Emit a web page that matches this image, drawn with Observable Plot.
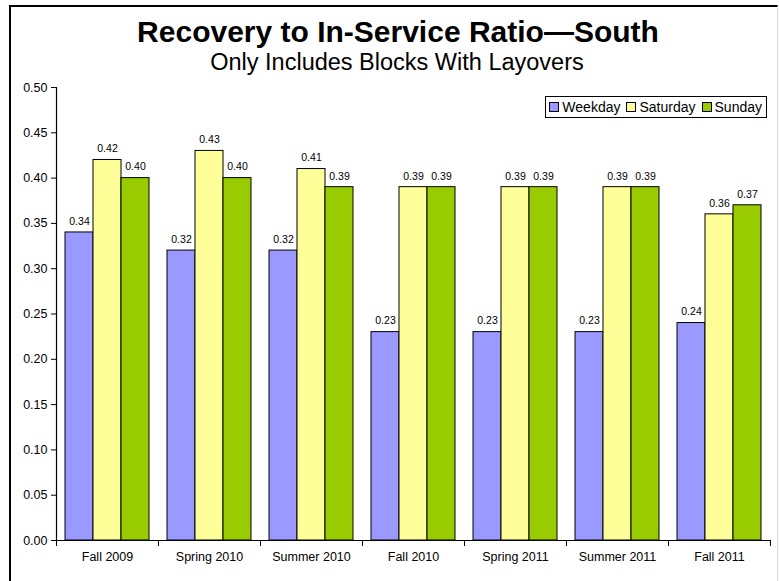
<!DOCTYPE html>
<html>
<head>
<meta charset="utf-8">
<script src="https://cdn.jsdelivr.net/npm/d3@7"></script>
<script src="https://cdn.jsdelivr.net/npm/@observablehq/plot@0.6"></script>
<style>
  html, body { margin: 0; padding: 0; background: #fff; }
  body { width: 779px; height: 581px; position: relative; overflow: hidden; font-family: "Liberation Sans", Arial, sans-serif; }
  #frame { position: absolute; left: 9px; top: 5px; width: 766px; height: 600px; border-top: 2px solid #000; border-left: 2px solid #000; border-right: 1px solid #ddd; }
  #title { position: absolute; left: 0; width: 796px; top: 15px; text-align: center; font-weight: bold; font-size: 30px; line-height: 34px; color: #000; }
  #subtitle { position: absolute; left: 0; width: 794px; top: 49px; text-align: center; font-size: 23.5px; line-height: 27px; color: #000; }
  #chart { position: absolute; left: 0; top: 0; }
  #legend { position: absolute; right: 12px; top: 96px; border: 1px solid #000; padding: 2px 4px 2px 3px; font-size: 14px; display: flex; align-items: center; gap: 6px; background: #fff; }
  #legend span.item { display: flex; align-items: center; gap: 3px; }
  #legend span.sw { display: inline-block; width: 8px; height: 8px; border: 1px solid #000; }
</style>
</head>
<body>
<div id="frame"></div>
<div id="chart"></div>
<div id="title">Recovery to In-Service Ratio—South</div>
<div id="subtitle">Only Includes Blocks With Layovers</div>
<div id="legend"></div>
<script>
const categories = ["Fall 2009", "Spring 2010", "Summer 2010", "Fall 2010", "Spring 2011", "Summer 2011", "Fall 2011"];
const series = ["Weekday", "Saturday", "Sunday"];
const weekday = [0.34, 0.32, 0.32, 0.23, 0.23, 0.23, 0.24];
const saturday = [0.42, 0.43, 0.41, 0.39, 0.39, 0.39, 0.36];
const sunday = [0.40, 0.40, 0.39, 0.39, 0.39, 0.39, 0.37];
const colors = ["#9999ff", "#ffff99", "#99cc00"];
const yTicks = [0, 0.05, 0.10, 0.15, 0.20, 0.25, 0.30, 0.35, 0.40, 0.45, 0.50];

const valuesBySeries = [weekday, saturday, sunday];
const data = [];
categories.forEach((c, i) => {
  series.forEach((s, j) => {
    data.push({category: c, series: s, value: valuesBySeries[j][i]});
  });
});

const font = '"Liberation Sans", Arial, sans-serif';

const chart = Plot.plot({
  width: 779,
  height: 581,
  marginTop: 87,
  marginBottom: 41,
  marginLeft: 53,
  marginRight: 7,
  style: {fontFamily: font, background: "transparent", overflow: "visible"},
  fx: {domain: categories, padding: 0, label: null},
  x: {domain: series, paddingInner: 0, paddingOuter: 0.3, axis: null},
  y: {domain: [0, 0.5], label: null},
  color: {domain: series, range: colors},
  marks: [
    Plot.barY(data, {fx: "category", x: "series", y: "value", fill: "series", stroke: "#000", strokeWidth: 1}),
    Plot.text(data, {fx: "category", x: "series", y: "value", text: d => d.value.toFixed(2), dy: -11, fontSize: 10.5, fill: "#000"}),
    Plot.ruleY([0], {stroke: "#000", strokeWidth: 1.2}),
    Plot.frame({anchor: "left", facet: "super", stroke: "#000", strokeWidth: 1.2}),
    Plot.frame({anchor: "left", insetTop: 453, insetBottom: -5, stroke: "#000"}),
    Plot.frame({anchor: "right", insetTop: 453, insetBottom: -5, stroke: "#000"}),
    Plot.axisY(yTicks, {tickFormat: d3.format(".2f"), tickSize: 5, tickPadding: 4, fontSize: 12.5, fill: "#000", stroke: "#000", label: null}),
    Plot.axisFx({anchor: "bottom", tickSize: 0, tickPadding: 12, fontSize: 12.5, fill: "#000", label: null})
  ]
});
document.getElementById("chart").appendChild(chart);

const legend = document.getElementById("legend");
series.forEach((s, j) => {
  const item = document.createElement("span");
  item.className = "item";
  const sw = document.createElement("span");
  sw.className = "sw";
  sw.style.background = colors[j];
  const t = document.createElement("span");
  t.textContent = s;
  item.appendChild(sw);
  item.appendChild(t);
  legend.appendChild(item);
});
</script>
</body>
</html>
